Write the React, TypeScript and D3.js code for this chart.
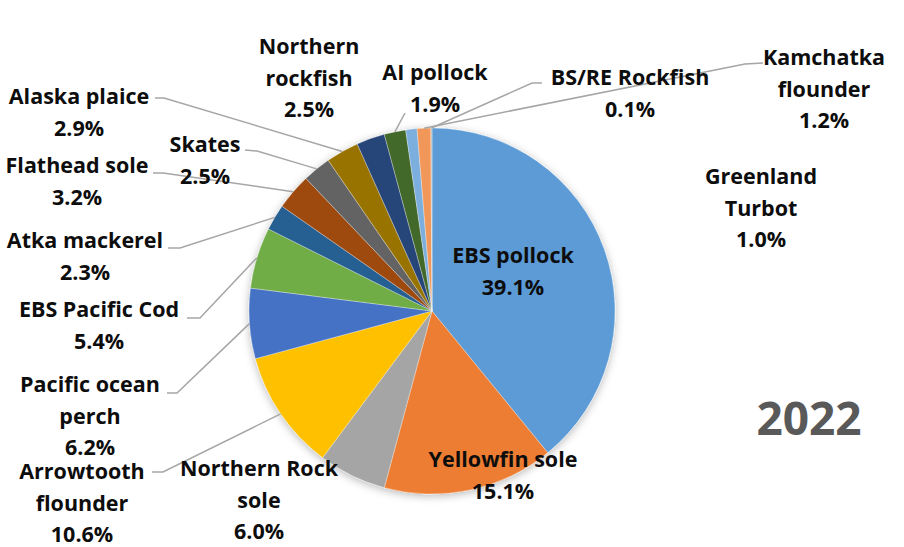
import React from "react";
import * as d3 from "d3";

const categories = [
  "EBS pollock", "Yellowfin sole", "Northern Rock sole", "Arrowtooth flounder",
  "Pacific ocean perch", "EBS Pacific Cod", "Atka mackerel", "Flathead sole",
  "Skates", "Alaska plaice", "Northern rockfish", "AI pollock",
  "Greenland Turbot", "Kamchatka flounder", "BS/RE Rockfish",
];
const values = [39.1, 15.1, 6.0, 10.6, 6.2, 5.4, 2.3, 3.2, 2.5, 2.9, 2.5, 1.9, 1.0, 1.2, 0.1];
const colors = [
  "#5B9BD5", "#ED7D31", "#A5A5A5", "#FFC000", "#4472C4", "#70AD47", "#255E91", "#9E480E",
  "#636363", "#997300", "#264478", "#43682B", "#7CAFDD", "#F1975A", "#B7B7B7",
];
const yearLabel = "2022";

// layout (label placement, not data)
type Lay = { lines: string[]; x: number; y: number; leader?: [number, number][] };
const layout: Record<string, Lay> = {
  "EBS pollock": { lines: ["EBS pollock"], x: 513, y: 263 },
  "Yellowfin sole": { lines: ["Yellowfin sole"], x: 503, y: 467 },
  "Northern Rock sole": { lines: ["Northern Rock", "sole"], x: 259, y: 476 },
  "Arrowtooth flounder": { lines: ["Arrowtooth", "flounder"], x: 82, y: 479, leader: [[152, 472], [163, 472]] },
  "Pacific ocean perch": { lines: ["Pacific ocean", "perch"], x: 90, y: 392, leader: [[167, 393], [177, 393]] },
  "EBS Pacific Cod": { lines: ["EBS Pacific Cod"], x: 99, y: 317, leader: [[187, 318], [200, 318]] },
  "Atka mackerel": { lines: ["Atka mackerel"], x: 85, y: 248, leader: [[168, 248], [180, 248]] },
  "Flathead sole": { lines: ["Flathead sole"], x: 77, y: 173, leader: [[153, 173], [163, 173]] },
  "Skates": { lines: ["Skates"], x: 205, y: 152, leader: [[245, 150], [257, 151]] },
  "Alaska plaice": { lines: ["Alaska plaice"], x: 79, y: 104, leader: [[155, 98], [164, 98]] },
  "Northern rockfish": { lines: ["Northern", "rockfish"], x: 309, y: 54 },
  "AI pollock": { lines: ["AI pollock"], x: 435, y: 80, leader: [[405, 113]] },
  "Greenland Turbot": { lines: ["Greenland", "Turbot"], x: 761, y: 184 },
  "Kamchatka flounder": { lines: ["Kamchatka", "flounder"], x: 824, y: 65, leader: [[763, 63], [745, 64]] },
  "BS/RE Rockfish": { lines: ["BS/RE Rockfish"], x: 630, y: 85, leader: [[542, 83], [532, 83]] },
};

const W = 904, H = 547;
const cx = 432, cy = 311, R = 183;
const LH = 31.5;

export default function App() {
  const pie = d3.pie<number>().value((d) => d).sort(null).startAngle(0).endAngle(2 * Math.PI);
  const arcs = pie(values);
  const arcGen = d3.arc<d3.PieArcDatum<number>>().innerRadius(0).outerRadius(R);
  const font = "'Open Sans', 'Noto Sans', sans-serif";

  return (
    <svg width={W} height={H} style={{ position: "absolute", left: 0, top: 0, background: "#fff" }}>
      <defs>
        <filter id="sh" x="-20%" y="-20%" width="140%" height="140%">
          <feDropShadow dx="0" dy="2" stdDeviation="4" floodColor="#000" floodOpacity="0.28" />
        </filter>
      </defs>
      <g transform={`translate(${cx},${cy})`} filter="url(#sh)">
        {arcs.map((a, i) => (
          <path key={i} d={arcGen(a) || ""} fill={colors[i]} stroke="#ffffff" strokeOpacity={0.45} strokeWidth={0.7} />
        ))}
      </g>
      <g fill="none" stroke="#A6A6A6" strokeWidth={1.5}>
        {arcs.map((a, i) => {
          const L = layout[categories[i]];
          if (!L.leader) return null;
          const m = (a.startAngle + a.endAngle) / 2;
          const ex = cx + R * Math.sin(m);
          const ey = cy - R * Math.cos(m);
          const pts: [number, number][] = [...L.leader, [ex, ey]];
          return <path key={i} d={d3.line()(pts) || ""} />;
        })}
      </g>
      <g fontFamily={font} fontWeight={700} fontSize={21.5} fill="#0D0D0D" textAnchor="middle">
        {categories.map((c, i) => {
          const L = layout[c];
          const lines = [...L.lines, `${values[i].toFixed(1)}%`];
          return (
            <text key={c} x={L.x} y={L.y}>
              {lines.map((t, j) => (
                <tspan key={j} x={L.x} dy={j === 0 ? 0 : LH}>{t}</tspan>
              ))}
            </text>
          );
        })}
      </g>
      <text x={809} y={435} textAnchor="middle" fontFamily={font} fontWeight={700} fontSize={46} fill="#595959">
        {yearLabel}
      </text>
    </svg>
  );
}
